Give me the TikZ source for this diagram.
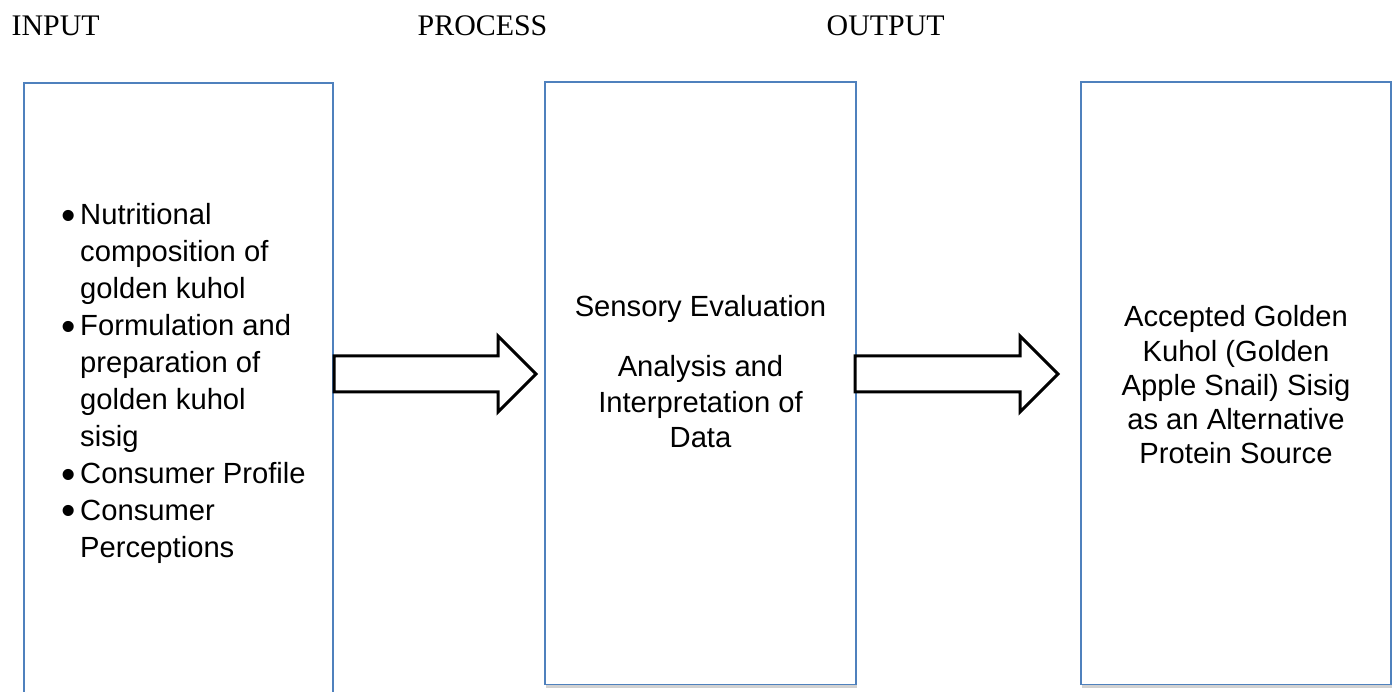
\documentclass[tikz,border=0pt]{standalone}
\usepackage{fontspec}
\setmainfont{Liberation Serif}
\newfontfamily\boxfont{Liberation Sans}
\usepackage{graphicx}
\usepackage{tikz}
\usetikzlibrary{calc, shadows}
\definecolor{boxblue}{RGB}{79, 129, 189}

\newcommand{\hollowarrow}[2]{%
  \filldraw[hollow] ($(#1)+(0,-18)$) -- ($(#2)+(-38,-18)$) -- ($(#2)+(-38,-38)$)
    -- (#2) -- ($(#2)+(-38,38)$) -- ($(#2)+(-38,18)$) -- ($(#1)+(0,18)$) -- cycle;}
\newcommand{\bigbullet}{\raisebox{-1.3pt}{\scalebox{1.4}{\textbullet}}}

\begin{document}
\begin{tikzpicture}[x=0.01cm, y=-0.01cm,
    box/.style={draw=boxblue, line width=0.45pt, fill=white, anchor=north west,
      inner sep=0, outer sep=0,
      drop shadow={shadow xshift=0.3pt, shadow yshift=-1.1pt, fill=black, opacity=0.18}},
    hollow/.style={draw=black, fill=white, line width=0.85pt},
    head/.style={font=\fontsize{8.5}{10}\selectfont, anchor=base west, inner sep=0},
    txt/.style={inner sep=0, anchor=base}]
  \clip (0, 0) rectangle (1394, 692);
  \fill[white] (0, 0) rectangle (1394, 692);

  % headings
  \node[head] (inhead) at (11, 36) {INPUT};
  \node[head] (prochead) at (417, 36) {PROCESS};
  \node[head] (outhead) at (826, 36) {OUTPUT};

  % boxes
  \node[box, minimum width=3.09cm, minimum height=6.3cm] (input) at (24, 83) {};
  \node[box, minimum width=3.11cm, minimum height=6.02cm] (process) at (545, 82) {};
  \node[box, minimum width=3.10cm, minimum height=6.02cm] (output) at (1081, 82) {};

  % box texts
  \node[txt, anchor=base west, font=\boxfont\fontsize{8.3}{10.5}\selectfont] (inlist) at (61, 225)
    {\begin{tabular}[t]{@{}l@{\hspace{1.2pt}}l@{}}
      \bigbullet & Nutritional\\
                 & composition of\\
                 & golden kuhol\\
      \bigbullet & Formulation and\\
                 & preparation of\\
                 & golden kuhol\\
                 & sisig\\
      \bigbullet & Consumer Profile\\
      \bigbullet & Consumer\\
                 & Perceptions
    \end{tabular}};

  \node[txt, font=\boxfont\fontsize{8.3}{10.1}\selectfont] (proctext) at (700.5, 317)
    {\begin{tabular}[t]{@{}c@{}}
      Sensory Evaluation\\[6.9pt]
      Analysis and\\
      Interpretation of\\
      Data
    \end{tabular}};

  \node[txt, font=\boxfont\fontsize{8.3}{9.7}\selectfont] (outtext) at (1236, 327)
    {\begin{tabular}[t]{@{}c@{}}
      Accepted Golden\\
      Kuhol (Golden\\
      Apple Snail) Sisig\\
      as an Alternative\\
      Protein Source
    \end{tabular}};

  % block arrows
  \coordinate (a1s) at ($(input.north east)+(1, 291)$);
  \coordinate (a1t) at ($(process.north west)+(-9, 292)$);
  \coordinate (a2s) at ($(process.north east)+(-1, 292)$);
  \coordinate (a2t) at ($(output.north west)+(-23, 292)$);
  \hollowarrow{a1s}{a1t}
  \hollowarrow{a2s}{a2t}
\end{tikzpicture}
\end{document}
